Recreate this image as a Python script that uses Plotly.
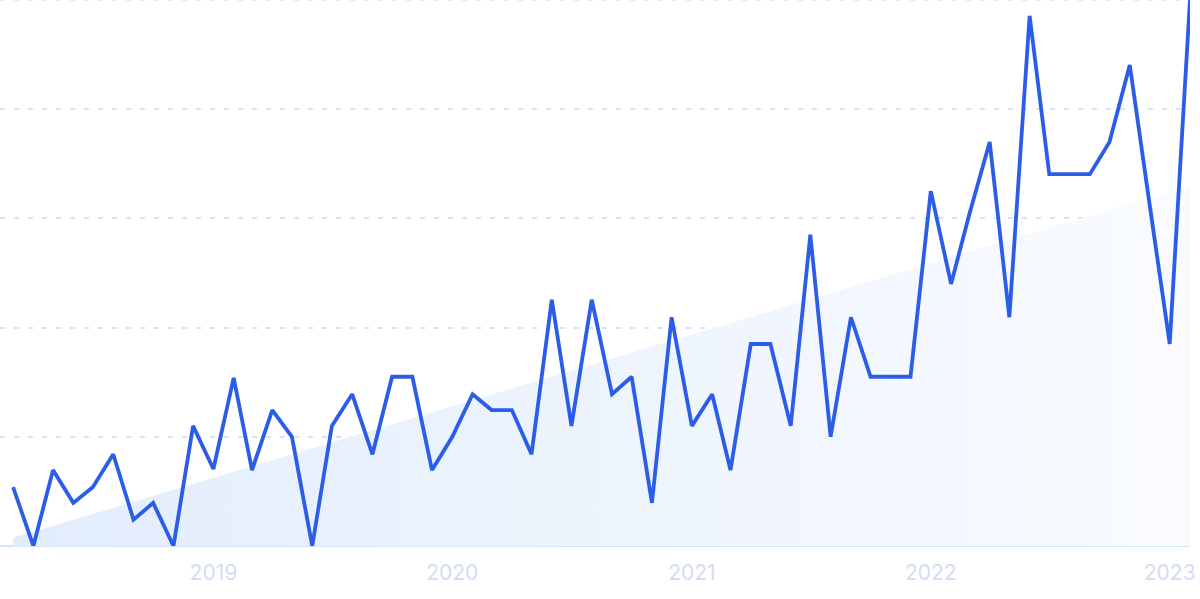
import plotly.graph_objects as go
import pandas as pd

# Monthly values, Mar 2018 .. Feb 2023
months = pd.date_range("2018-03-01", "2023-02-01", freq="MS")
values = [10.8, 0, 13.9, 7.9, 10.8, 16.8, 4.8, 7.9, 0, 22.0,
          14.1, 30.8, 13.9, 24.9, 20.0, 0, 22.0, 27.8, 16.8, 31.0,
          31.0, 13.9, 20.0, 27.8, 24.9, 24.9, 16.8, 45.1, 22.0, 45.1,
          27.8, 31.0, 7.9, 41.9, 22.0, 27.8, 13.9, 37.0, 37.0, 22.0,
          57.0, 20.0, 41.9, 31.0, 31.0, 31.0, 65.0, 48.0, 60.8, 74.0,
          41.9, 97.1, 68.1, 68.1, 68.1, 74.0, 88.1, 62.8, 37.0, 100]
trend_dates = [months[0], months[-1]]
trend_values = [1.5, 66.0]
tick_dates = ["2019-01-01", "2020-01-01", "2021-01-01", "2022-01-01", "2023-01-01"]
tick_labels = ["2019", "2020", "2021", "2022", "2023"]
y_max = 100

grid_color = "rgb(212,226,251)"

fig = go.Figure()
fig.add_trace(go.Scatter(
    x=trend_dates, y=trend_values, mode="lines", line=dict(width=0),
    fill="tozeroy",
    fillgradient=dict(type="horizontal",
                      colorscale=[[0, "rgb(226,237,252)"], [1, "rgb(249,251,255)"]]),
    hoverinfo="skip", showlegend=False))
fig.add_trace(go.Scatter(
    x=months, y=values, mode="lines",
    line=dict(color="rgb(44,93,232)", width=3.8),
    cliponaxis=False, showlegend=False))

fig.add_shape(type="line", xref="paper", yref="y", x0=0, x1=1, y0=y_max, y1=y_max,
              line=dict(color=grid_color, width=1.5, dash="5px,9px"), layer="below")

fig.update_layout(
    width=1200, height=599,
    margin=dict(l=0, r=10, t=0, b=53),
    paper_bgcolor="white", plot_bgcolor="white",
    xaxis=dict(range=["2018-02-09", "2023-02-01"], showgrid=False, zeroline=False,
               tickvals=tick_dates, ticktext=tick_labels, ticks="",
               ticklabelstandoff=12,
               tickfont=dict(family="Inter", size=21, color="rgb(212,220,245)"),
               showline=False),
    yaxis=dict(range=[0, y_max], dtick=20, showticklabels=False,
               gridcolor=grid_color, griddash="5px,9px", gridwidth=1.5,
               zeroline=True, zerolinecolor="rgb(214,228,247)", zerolinewidth=2),
)
fig.write_html("out.html", config={"displayModeBar": False},
               post_script="document.body.style.margin='0';document.body.style.overflow='hidden';")
